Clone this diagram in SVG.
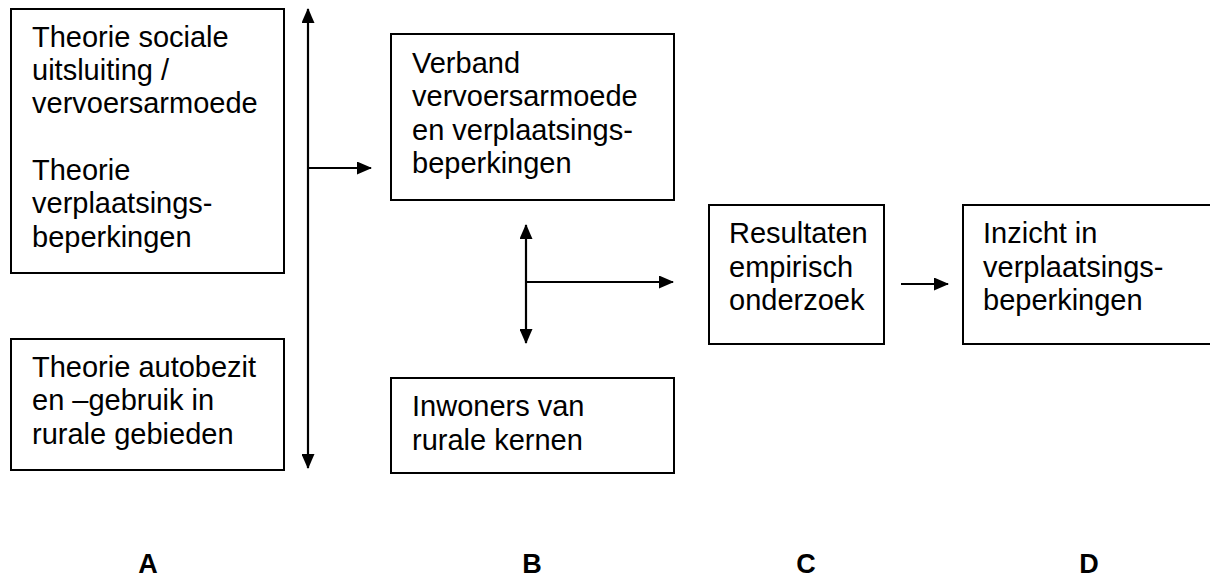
<svg xmlns="http://www.w3.org/2000/svg" width="1210" height="579" viewBox="0 0 1210 579">
<style>
.box{fill:#fff;stroke:#000;stroke-width:2}
.t{font-family:"Liberation Sans",Arial,sans-serif;font-size:29px;fill:#000}
.lbl{font-family:"Liberation Sans",Arial,sans-serif;font-size:27px;font-weight:bold;fill:#000;text-anchor:middle}
.c{stroke:#000;stroke-width:2.2;fill:none}
</style>
<defs>
<marker id="ah" viewBox="0 0 15 13" refX="14" refY="6.5" markerWidth="15" markerHeight="13" markerUnits="userSpaceOnUse" orient="auto-start-reverse">
<path d="M0,0 L15,6.5 L0,13 z" fill="#000"/>
</marker>
</defs>
<rect width="1210" height="579" fill="#fff"/>
<g id="nodeA1">
<rect class="box" x="11" y="9" width="273" height="264"/>
<text class="t" x="32" y="47">Theorie sociale</text>
<text class="t" x="32" y="80">uitsluiting /</text>
<text class="t" x="32" y="113">vervoersarmoede</text>
<text class="t" x="32" y="180">Theorie</text>
<text class="t" x="32" y="213">verplaatsings-</text>
<text class="t" x="32" y="247">beperkingen</text>
</g>
<g id="nodeA2">
<rect class="box" x="11" y="339" width="273" height="131"/>
<text class="t" x="32" y="377">Theorie autobezit</text>
<text class="t" x="32" y="410">en –gebruik in</text>
<text class="t" x="32" y="444">rurale gebieden</text>
</g>
<g id="nodeB1">
<rect class="box" x="391" y="34" width="283" height="166"/>
<text class="t" x="412" y="73">Verband</text>
<text class="t" x="412" y="106">vervoersarmoede</text>
<text class="t" x="412" y="140">en verplaatsings-</text>
<text class="t" x="412" y="173">beperkingen</text>
</g>
<g id="nodeB2">
<rect class="box" x="391" y="378" width="283" height="95"/>
<text class="t" x="412" y="416">Inwoners van</text>
<text class="t" x="412" y="450">rurale kernen</text>
</g>
<g id="nodeC">
<rect class="box" x="709" y="205" width="175" height="139"/>
<text class="t" x="729" y="243">Resultaten</text>
<text class="t" x="729" y="277">empirisch</text>
<text class="t" x="729" y="310">onderzoek</text>
</g>
<g id="nodeD">
<rect class="box" x="963" y="205" width="260" height="139"/>
<text class="t" x="983" y="243">Inzicht in</text>
<text class="t" x="983" y="277">verplaatsings-</text>
<text class="t" x="983" y="310">beperkingen</text>
</g>
<g id="connectors">
<line class="c" x1="308" y1="9" x2="308" y2="468" marker-start="url(#ah)" marker-end="url(#ah)"/>
<line class="c" x1="308" y1="168" x2="371" y2="168" marker-end="url(#ah)"/>
<line class="c" x1="526" y1="225" x2="526" y2="343" marker-start="url(#ah)" marker-end="url(#ah)"/>
<line class="c" x1="526" y1="282" x2="673" y2="282" marker-end="url(#ah)"/>
<line class="c" x1="901" y1="284" x2="948" y2="284" marker-end="url(#ah)"/>
</g>
<g id="labels">
<text class="lbl" x="148" y="573">A</text>
<text class="lbl" x="532" y="573">B</text>
<text class="lbl" x="806" y="573">C</text>
<text class="lbl" x="1089" y="573">D</text>
</g>
</svg>
